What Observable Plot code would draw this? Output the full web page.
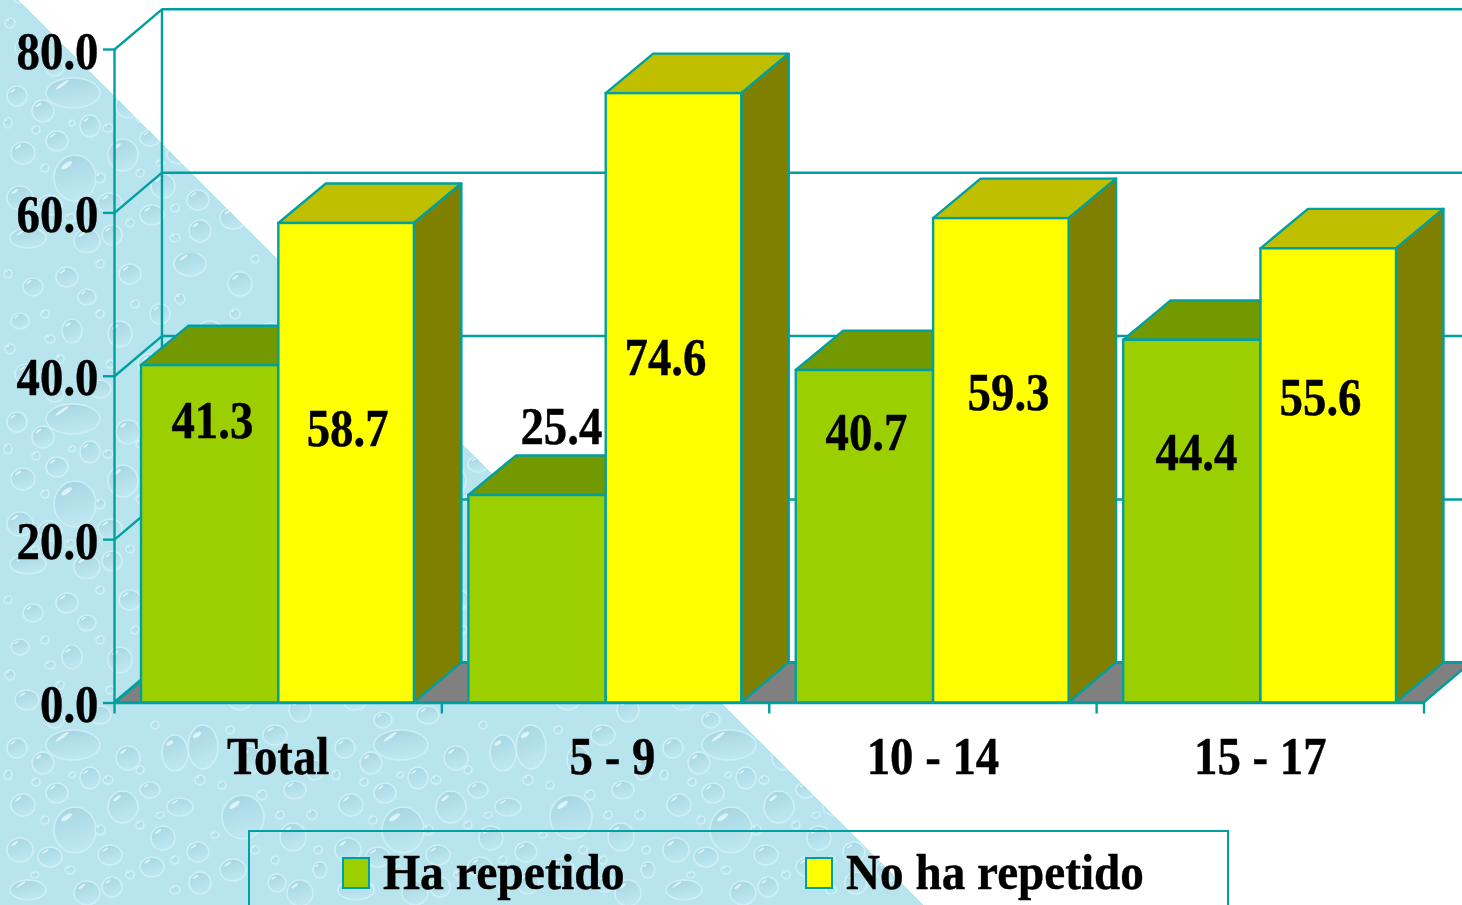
<!DOCTYPE html>
<html lang="es">
<head>
<meta charset="utf-8">
<title>Ha repetido / No ha repetido</title>
<script src="https://cdn.jsdelivr.net/npm/d3@7"></script>
<script src="https://cdn.jsdelivr.net/npm/@observablehq/plot@0.6"></script>
<style>
  html, body { margin: 0; padding: 0; width: 1462px; height: 905px; overflow: hidden; background: #fff; }
  #page { position: relative; width: 1462px; height: 905px; overflow: hidden; }
  #page svg.chart { display: block; position: absolute; left: 0; top: 0; overflow: hidden; }
  #legend { position: absolute; left: 248px; top: 830px; width: 977px; height: 110px; border: 2px solid #00A0A0;
            box-sizing: content-box; font: bold 51px "Liberation Serif", serif; color: #000; -webkit-text-stroke: 0.4px #000; }
  #legend .sw { position: absolute; top: 25px; width: 24px; height: 28px; border: 2px solid #00A0A0; }
  #legend .lb { position: absolute; top: 10px; transform-origin: left center; white-space: nowrap; line-height: 60px; }
</style>
</head>
<body>
<div id="page"></div>
<script>
// ---- chart values ----
const categories = ["Total", "5 - 9", "10 - 14", "15 - 17"];
const series = ["Ha repetido", "No ha repetido"];
const haRepetido = [41.3, 25.4, 40.7, 44.4];
const noHaRepetido = [58.7, 74.6, 59.3, 55.6];
const yTicks = [0, 20, 40, 60, 80];
const xTicks = [0, 1, 2, 3, 4];

// ---- hand-placed label anchors of the source chart, in scale units ----
const categoryLabelX = [0.5, 1.521, 2.5, 3.5];
const greenLabelX = [0.299, 1.365, 2.297, 3.305];
const greenLabelY = [34.5, 33.7, 33.0, 30.5];
const yellowLabelX = [0.712, 1.683, 2.731, 3.684];
const yellowLabelY = [33.5, 42.2, 37.9, 37.3];

// ---- 3-D layout, in scale units ----
const depthX = 0.145, depthY = 4.83, wallDepthY = 4.92;
const barLeft = 0.0825, barMid = 0.502, barRight = 0.916;

// ---- colours ----
const teal = "#00A0A0";
const green = "#9CCF00", greenTop = "#739900";
const yellow = "#FFFF00", yellowTop = "#BFBF00", yellowSide = "#808000";
const floorGrey = "#808080";

// ---- decorative water-drop texture: cx, cy, rx, ry (page pixels of one tile) ----
const droplets = [
  [73,745,27,15],[75,830,21,23],[203,747,15,22],[175,753,13,18],[128,758,12,12],[43,763,11,11],
  [17,748,10,10],[90,778,10,11],[57,793,11,10],[23,805,12,11],[123,807,15,16],[150,790,10,8],
  [180,807,13,9],[243,817,21,22],[163,838,12,12],[20,850,13,12],[50,857,12,10],[110,855,12,10],
  [152,867,12,10],[198,852,11,10],[233,870,13,11],[87,893,13,12],[112,887,10,10],[200,883,11,11],
  [300,893,13,13],[295,790,11,9],[277,883,9,9],[320,870,7,8],[293,837,13,14],[28,890,18,10],
  [67,603,11,10],[33,613,10,9],[87,623,9,8],[72,657,10,12],[20,647,9,8],[27,700,12,10],
  [190,590,16,12],[240,610,12,12],[290,600,12,10],[160,640,10,10],[210,660,14,13],[270,660,11,11],
  [310,640,10,10],[150,690,12,10],[240,700,12,10],[300,710,11,12],[120,660,12,13],[130,600,11,10],
  [55,720,9,8],[100,715,11,9],[250,760,11,14],[275,735,12,10],[315,770,9,10],
  // small beads between the larger drops
  [36,782,4,4],[72,775,3,3],[108,780,5,4],[140,770,4,4],[160,815,4,3],[8,775,4,5],[45,820,4,4],
  [100,830,5,5],[140,825,4,4],[200,780,5,5],[222,785,4,4],[262,795,5,5],[280,815,4,4],[215,835,4,3],
  [130,875,4,4],[175,860,4,4],[70,870,5,4],[35,875,4,3],[175,890,5,4],[255,850,4,4],[275,860,4,4],
  [312,815,5,5],[318,850,4,4],[45,640,4,4],[50,665,5,4],[100,640,4,4],[110,690,4,4],[60,685,4,4],
  [10,675,5,5],[180,625,5,5],[135,630,4,4],[235,640,5,5],[255,585,4,4],[320,610,4,4],[190,695,4,4],
  [275,695,4,4],[8,600,4,4],[100,590,4,4],[155,725,4,4],[230,730,4,4]
];
const tileW = 328, tileH = 326, tileY0 = 579;
const tileSvg = `<svg xmlns="http://www.w3.org/2000/svg" width="${tileW}" height="${tileH}">
<defs><linearGradient id="g" x1="0.3" y1="0" x2="0.6" y2="1"><stop offset="0" stop-color="#a6d6e3"/><stop offset="1" stop-color="#c0e9f1"/></linearGradient></defs>
<rect width="${tileW}" height="${tileH}" fill="#b8e4ee"/>` +
  droplets.map(([x, y, rx, ry]) => {
    const cy = y - tileY0, hx = x - rx * 0.4, hy = cy - ry * 0.55;
    return `<ellipse cx="${x}" cy="${cy}" rx="${rx}" ry="${ry}" fill="url(#g)" stroke="#cdf0f6" stroke-width="1.6"/>` +
      `<ellipse cx="${hx}" cy="${hy}" rx="${Math.max(1.2, rx * 0.3)}" ry="${Math.max(0.8, ry * 0.1)}" fill="#e4f8fb" opacity="0.85" transform="rotate(-35 ${hx} ${hy})"/>`;
  }).join("") + `</svg>`;
const page = document.getElementById("page");
page.style.backgroundImage =
  `linear-gradient(45deg, transparent 653px, #fff 653px), url("data:image/svg+xml,${encodeURIComponent(tileSvg)}")`;
page.style.backgroundPosition = `0 0, 0 ${tileY0 % tileH}px`;
page.style.backgroundSize = `auto, ${tileW}px ${tileH}px`;

// ---- tables derived from the arrays ----
const bars = (values, a, b) => values.map((v, i) => ({ v, left: i + a, right: i + b }));
const greenBars = bars(haRepetido, barLeft, barMid);
const yellowBars = bars(noHaRepetido, barMid, barRight);

// each face is two cross-sections (front edge, back edge) of an area
const topFaces = rows => rows.flatMap((d, i) => [
  { id: i, x1: d.left, y1: d.v, x2: d.right, y2: d.v },
  { id: i, x1: d.left + depthX, y1: d.v + depthY, x2: d.right + depthX, y2: d.v + depthY }
]);
const sideFaces = rows => rows.flatMap((d, i) => [
  { id: i, x1: d.right, y1: 0, x2: d.right, y2: d.v },
  { id: i, x1: d.right + depthX, y1: wallDepthY, x2: d.right + depthX, y2: d.v + depthY }
]);
const line = { stroke: teal, strokeWidth: 2.4 };
const face = (rows, fill) => Plot.area(rows, {
  x1: "x1", y1: "y1", x2: "x2", y2: "y2", z: "id", fill, ...line, strokeLinejoin: "round"
});
const front = (rows, fill) => Plot.rect(rows, {
  x1: "left", x2: "right", y1: 0, y2: "v", fill, ...line
});
const font = { fontFamily: "'Liberation Serif', serif", fontWeight: "bold", fontSize: 52, fill: "#000", stroke: "#000", strokeWidth: 0.4 };
const valueLabels = (values, xs, ys) => Plot.text(values, {
  x: (d, i) => xs[i], y: (d, i) => ys[i], text: d => d.toFixed(1), lineAnchor: "middle", ...font
});

const chart = Plot.plot({
  width: 1462, height: 905,
  marginLeft: 114, marginRight: 38.5, marginTop: 49, marginBottom: 202.5,
  style: { background: "transparent", overflow: "hidden" },
  className: "chart",
  x: { domain: [0, 4], axis: null },
  y: { domain: [0, 80], axis: null },
  marks: [
    // floor
    face([
      { id: 0, x1: 0, y1: 0, x2: 4, y2: 0 },
      { id: 0, x1: depthX, y1: wallDepthY, x2: 4 + depthX, y2: wallDepthY }
    ], floorGrey),
    // walls: gridlines on the back wall, slanted lines on the side wall
    Plot.ruleY(yTicks, { y: d => d + wallDepthY, x1: depthX, x2: 4 + depthX, ...line }),
    Plot.link(yTicks, { x1: 0, y1: d => d, x2: depthX, y2: d => d + wallDepthY, ...line }),
    Plot.ruleX([depthX], { y1: wallDepthY, y2: 80 + wallDepthY, ...line }),
    Plot.ruleX([0], { y1: 0, y2: 80, ...line }),
    // axes
    Plot.axisY({ ticks: yTicks, tickFormat: () => "", tickSize: 11, label: null, ...line }),
    Plot.text(yTicks, { x: 0, y: d => d, dx: -16, dy: 2.5, text: d => d.toFixed(1), textAnchor: "end", lineAnchor: "middle", ...font }),
    Plot.axisX({ ticks: xTicks, tickFormat: () => "", tickSize: 11, label: null, ...line }),
    Plot.text(categories, { x: (d, i) => categoryLabelX[i], y: 0, dy: 54, text: d => d, lineAnchor: "middle", ...font }),
    // bars, back to front
    face(topFaces(greenBars), greenTop),
    front(greenBars, green),
    face(topFaces(yellowBars), yellowTop),
    face(sideFaces(yellowBars), yellowSide),
    front(yellowBars, yellow),
    Plot.ruleY([0], { x1: 0, x2: 4, ...line }),
    // value labels
    valueLabels(haRepetido, greenLabelX, greenLabelY),
    valueLabels(noHaRepetido, yellowLabelX, yellowLabelY)
  ]
});
page.appendChild(chart);

// the source type is a condensed bold serif: narrow the real text without rasterising it
chart.querySelectorAll("text").forEach(t => {
  const len = t.getComputedTextLength();
  if (len > 0) {
    t.setAttribute("textLength", (len * 0.9).toFixed(1));
    t.setAttribute("lengthAdjust", "spacingAndGlyphs");
  }
});

// legend, over the bottom edge of the picture as in the source
const legend = document.createElement("div");
legend.id = "legend";
const legendColors = [green, yellow];
const legendX = [{ sw: 92, lb: 133, sx: 0.935 }, { sw: 555, lb: 596, sx: 0.925 }];
series.forEach((name, i) => {
  const sw = document.createElement("div");
  sw.className = "sw";
  sw.style.left = legendX[i].sw + "px";
  sw.style.background = legendColors[i];
  const lb = document.createElement("div");
  lb.className = "lb";
  lb.style.left = legendX[i].lb + "px";
  lb.style.transform = `scaleX(${legendX[i].sx})`;
  lb.textContent = name;
  legend.append(sw, lb);
});
page.appendChild(legend);
</script>
</body>
</html>
